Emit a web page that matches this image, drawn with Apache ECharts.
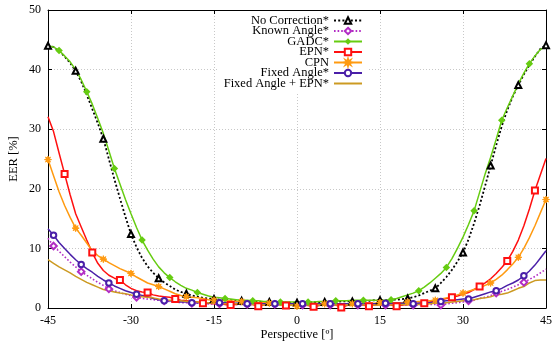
<!DOCTYPE html>
<html>
<head>
<meta charset="utf-8">
<script src="https://cdn.jsdelivr.net/npm/echarts@6/dist/echarts.min.js"></script>
<style>
html,body{margin:0;padding:0;background:#fff;}
#c{width:554px;height:341px;}
</style>
</head>
<body>
<div id="c"></div>
<script>
const angles = [-45,-44,-43,-42,-41,-40,-39,-38,-37,-36,-35,-34,-33,-32,-31,-30,-29,-28,-27,-26,
-25,-24,-23,-22,-21,-20,-19,-18,-17,-16,-15,-14,-13,-12,-11,-10,-9,-8,-7,-6,
-5,-4,-3,-2,-1,0,1,2,3,4,5,6,7,8,9,10,11,12,13,14,
15,16,17,18,19,20,21,22,23,24,25,26,27,28,29,30,31,32,33,34,
35,36,37,38,39,40,41,42,43,44,45];

const xTicks = [-45,-30,-15,0,15,30,45];
const yTicks = [0,10,20,30,40,50];

const noCorrection = [
44.0,43.8,43.1,42.2,41.1,39.8,38.0,35.8,33.4,31.0,
28.4,25.0,21.6,18.4,15.3,12.4,10.2,8.4,7.0,5.9,
5.0,4.3,3.7,3.1,2.7,2.4,2.1,1.9,1.7,1.6,
1.5,1.4,1.4,1.3,1.3,1.2,1.2,1.1,1.1,1.0,
1.0,1.0,0.9,0.9,0.9,0.9,0.9,0.9,1.0,1.0,
1.0,1.0,1.0,1.1,1.1,1.1,1.2,1.2,1.2,1.3,
1.3,1.3,1.4,1.4,1.5,1.6,1.8,2.1,2.5,2.9,
3.3,4.2,5.2,6.4,7.8,9.3,11.5,14.2,17.2,20.5,
23.9,27.3,30.5,33.2,35.5,37.4,39.2,40.8,42.2,43.5,
44.1];

const knownAngle = [
11.7,10.4,9.5,8.6,7.7,6.9,6.1,5.5,4.9,4.3,
3.8,3.2,2.9,2.6,2.3,2.1,1.8,1.6,1.5,1.4,
1.3,1.2,1.1,1.0,0.9,0.9,0.8,0.8,0.7,0.7,
0.7,0.7,0.6,0.6,0.6,0.6,0.6,0.6,0.6,0.6,
0.6,0.6,0.6,0.5,0.5,0.5,0.5,0.5,0.5,0.5,
0.5,0.5,0.5,0.5,0.5,0.5,0.5,0.5,0.5,0.5,
0.5,0.5,0.5,0.5,0.5,0.5,0.5,0.5,0.6,0.6,
0.6,0.5,0.7,0.8,0.9,1.0,1.2,1.3,1.6,1.8,
2.1,2.5,2.8,3.1,3.5,3.9,4.3,4.8,5.3,5.9,
6.5];

const gadc = [
44.0,43.8,43.2,42.3,41.3,40.0,38.3,36.3,34.2,31.8,
29.3,26.4,23.4,20.8,18.2,15.8,13.5,11.4,9.7,8.2,
6.9,5.9,5.1,4.4,3.8,3.3,3.0,2.6,2.3,2.0,
1.8,1.7,1.6,1.5,1.4,1.3,1.3,1.2,1.2,1.1,
1.1,1.0,1.0,1.0,1.0,1.0,1.0,1.0,1.0,1.1,
1.1,1.1,1.2,1.2,1.2,1.3,1.3,1.3,1.3,1.3,
1.3,1.3,1.4,1.6,1.9,2.2,2.5,2.9,3.5,4.2,
5.0,5.8,6.8,8.3,10.0,11.9,14.0,16.3,19.4,22.5,
25.3,28.3,31.5,33.6,35.6,37.6,39.4,41.0,42.3,43.4,
43.9];

const epn = [
32.1,29.6,26.0,22.5,19.0,15.8,13.6,11.4,9.3,7.5,
6.3,5.5,5.0,4.7,3.9,3.3,2.9,2.7,2.6,2.2,
2.0,1.9,1.8,1.5,1.3,1.2,1.1,1.0,0.8,0.8,
0.7,0.7,0.6,0.5,0.6,0.7,0.7,0.6,0.3,0.5,
0.7,0.8,0.6,0.4,0.5,0.6,0.5,0.4,0.2,0.4,
0.6,0.7,0.5,0.1,0.4,0.6,0.7,0.5,0.3,0.5,
0.6,0.6,0.5,0.3,0.5,0.6,0.7,0.8,0.8,1.0,
1.2,1.4,1.6,1.8,2.0,2.3,2.6,3.1,3.6,4.2,
4.9,5.8,6.8,7.9,9.5,11.4,13.8,16.6,19.7,22.4,
25.1];

const cpn = [
24.9,22.2,19.5,17.2,15.2,13.4,12.2,10.9,9.6,8.8,
8.2,7.6,7.1,6.6,6.2,5.8,5.2,4.7,4.2,3.9,
3.6,3.2,2.8,2.4,2.1,1.9,1.8,1.7,1.6,1.4,
1.3,1.3,1.2,1.2,1.1,1.1,1.0,1.0,0.9,0.9,
0.8,0.7,0.6,0.6,0.5,0.3,0.5,0.6,0.6,0.7,
0.7,0.7,0.7,0.7,0.7,0.7,0.7,0.8,0.8,0.8,
0.9,0.9,0.9,0.9,0.9,1.0,1.0,1.1,1.1,1.2,
1.3,1.5,1.7,1.9,2.2,2.5,2.8,3.1,3.4,3.8,
4.2,4.8,5.5,6.4,7.4,8.5,10.0,11.8,13.8,16.0,
18.2];

const fixedAngle = [
13.3,12.2,11.0,10.0,9.0,8.1,7.3,6.6,6.0,5.3,
4.7,4.2,3.7,3.3,2.9,2.6,2.3,2.1,1.9,1.6,
1.4,1.2,1.2,1.1,1.0,1.0,0.9,0.9,0.9,0.9,
0.9,0.9,0.9,0.8,0.8,0.8,0.7,0.7,0.7,0.7,
0.7,0.7,0.7,0.7,0.7,0.7,0.7,0.7,0.7,0.7,
0.7,0.7,0.7,0.7,0.7,0.7,0.7,0.7,0.7,0.7,
0.8,0.8,0.8,0.8,0.8,0.8,0.7,0.8,0.9,0.9,
1.0,1.1,1.2,1.3,1.4,1.5,1.5,1.8,2.1,2.4,
2.7,2.9,3.3,3.8,4.2,4.7,5.4,6.2,7.2,8.4,
9.6];

const fixedAngleEpn = [
8.1,7.5,6.9,6.4,5.9,5.3,4.8,4.3,3.9,3.5,
3.1,2.9,2.7,2.5,2.4,2.2,2.1,1.9,1.8,1.7,
1.5,1.4,1.3,1.3,1.2,1.1,1.0,1.0,0.9,0.9,
0.8,0.8,0.7,0.7,0.7,0.6,0.6,0.6,0.6,0.5,
0.5,0.5,0.5,0.5,0.5,0.5,0.5,0.5,0.5,0.5,
0.5,0.5,0.5,0.5,0.5,0.5,0.5,0.5,0.5,0.5,
0.5,0.5,0.5,0.5,0.6,0.6,0.6,0.6,0.7,0.7,
0.8,0.8,0.9,1.0,1.1,1.2,1.3,1.4,1.6,1.7,
1.9,2.2,2.3,2.5,2.9,3.3,3.6,4.2,4.6,4.7,
4.7];

const seriesNames = ['No Correction*','Known Angle*','GADC*','EPN*','CPN','Fixed Angle*','Fixed Angle + EPN*'];

const FONT = 'Liberation Serif';
const STAR = 'path://M20,10 L13.9,11.6 L17.07,17.07 L11.6,13.9 L10,20 L8.4,13.9 L2.93,17.07 L6.1,11.6 L0,10 L6.1,8.4 L2.93,2.93 L8.4,6.1 L10,0 L11.6,6.1 L17.07,2.93 L13.9,8.4 Z';

function build(vals, phase) {
  return angles.map(function (a, i) {
    if (phase >= 0 && i % 5 === phase) return { value: [a, vals[i]] };
    return { value: [a, vals[i]], symbol: 'none' };
  });
}

function mkSeries(name, vals, phase, color, symbol, size, lineType, lineWidth, fillColor, border) {
  return {
    name: name,
    type: 'line',
    xAxisIndex: 0,
    yAxisIndex: 0,
    data: build(vals, phase),
    symbol: symbol,
    symbolSize: size,
    showSymbol: true,
    showAllSymbol: true,
    smooth: false,
    silent: true,
    animation: false,
    itemStyle: border ? { color: fillColor || color, borderColor: color, borderWidth: border }
                      : { color: fillColor || color, borderWidth: 1.3 },
    lineStyle: { color: color, width: lineWidth, type: lineType },
    emphasis: { disabled: true }
  };
}

const series = [
  mkSeries(seriesNames[0], noCorrection, 0, '#000000', 'emptyTriangle', 6, [2, 2.2], 1.8),
  mkSeries(seriesNames[1], knownAngle, 1, '#b22cc4', 'emptyDiamond', 6.5, [1.6, 2], 1.6),
  mkSeries(seriesNames[2], gadc, 2, '#66cc11', 'diamond', 7.5, 'solid', 1.5),
  mkSeries(seriesNames[3], epn, 3, '#ff1010', 'emptyRect', 6, 'solid', 1.5),
  mkSeries(seriesNames[4], cpn, 0, '#ff9a10', STAR, 7, 'solid', 1.5, null, 1),
  mkSeries(seriesNames[5], fixedAngle, 1, '#4a1fa8', 'emptyCircle', 5.5, 'solid', 1.5),
  mkSeries(seriesNames[6], fixedAngleEpn, -1, '#cc9a22', 'circle', 1, 'solid', 1.5, 'rgba(0,0,0,0)')
];

const axisCommonX = {
  type: 'value', min: xTicks[0], max: xTicks[xTicks.length - 1], interval: xTicks[1] - xTicks[0]
};
const axisCommonY = {
  type: 'value', min: yTicks[0], max: yTicks[yTicks.length - 1], interval: yTicks[1] - yTicks[0]
};

const chart = echarts.init(document.getElementById('c'), null, { renderer: 'canvas' });
chart.setOption({
  animation: false,
  backgroundColor: '#ffffff',
  textStyle: { fontFamily: FONT },
  grid: { left: 48, right: 8, top: 10, bottom: 33, containLabel: false, outerBoundsMode: 'none' },
  legend: {
    data: seriesNames,
    orient: 'vertical',
    align: 'right',
    right: 186,
    top: 11,
    padding: [3, 5, 3, 5],
    itemGap: -2.5,
    itemWidth: 28,
    itemHeight: 8,
    backgroundColor: '#ffffff',
    selectedMode: false,
    textStyle: { fontFamily: FONT, fontSize: 12.5, color: '#000' }
  },
  xAxis: [
    Object.assign({}, axisCommonX, {
      position: 'bottom',
      name: 'Perspective [º]',
      nameLocation: 'middle',
      nameGap: 20,
      nameMoveOverlap: false,
      nameTextStyle: { fontFamily: FONT, fontSize: 12.5, color: '#000' },
      axisLine: { show: true, onZero: false, lineStyle: { color: '#000', width: 1 } },
      axisTick: { show: true, inside: true, length: 4, lineStyle: { color: '#000' } },
      axisLabel: { color: '#000', fontFamily: FONT, fontSize: 12, margin: 7,
        formatter: function (v) { return String(v); } },
      splitLine: { show: true, lineStyle: { color: '#c8c8c8', type: [1, 2], width: 1 } }
    }),
    Object.assign({}, axisCommonX, {
      position: 'top',
      axisLine: { show: true, onZero: false, lineStyle: { color: '#000', width: 1 } },
      axisTick: { show: true, inside: true, length: 4, lineStyle: { color: '#000' } },
      axisLabel: { show: false },
      splitLine: { show: false }
    })
  ],
  yAxis: [
    Object.assign({}, axisCommonY, {
      position: 'left',
      name: 'EER [%]',
      nameLocation: 'middle',
      nameGap: 28,
      nameRotate: 90,
      nameMoveOverlap: false,
      nameTextStyle: { fontFamily: FONT, fontSize: 12.5, color: '#000' },
      axisLine: { show: true, onZero: false, lineStyle: { color: '#000', width: 1 } },
      axisTick: { show: true, inside: true, length: 4, lineStyle: { color: '#000' } },
      axisLabel: { color: '#000', fontFamily: FONT, fontSize: 12, margin: 7 },
      splitLine: { show: true, lineStyle: { color: '#c8c8c8', type: [1, 2], width: 1 } }
    }),
    Object.assign({}, axisCommonY, {
      position: 'right',
      axisLine: { show: true, onZero: false, lineStyle: { color: '#000', width: 1 } },
      axisTick: { show: true, inside: true, length: 4, lineStyle: { color: '#000' } },
      axisLabel: { show: false },
      splitLine: { show: false }
    })
  ],
  series: series
});
</script>
</body>
</html>
